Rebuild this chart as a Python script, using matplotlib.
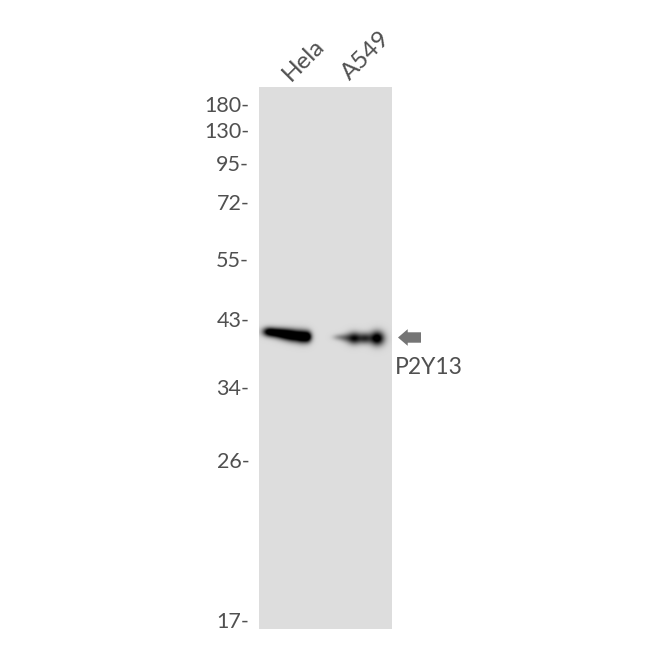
import numpy as np
import matplotlib
matplotlib.use("Agg")
import matplotlib.pyplot as plt

markers = ["180", "130", "95", "72", "55", "43", "34", "26", "17"]
marker_rows = [104, 130, 163, 202, 259, 319, 387, 460, 620]
lanes = ["Hela", "A549"]
target = "P2Y13"

# band blobs: x px, y px, sigma x, sigma y, darkness
hela_band = [(268, 331.5, 4.5, 3.2, .75), (276, 332.5, 5.5, 3.4, .85), (285, 334, 5.5, 3.8, .9),
             (294, 335.5, 5.5, 4.2, .95), (303, 336.5, 4.5, 4.4, .95), (308, 336.5, 2.8, 3.8, .6)]
a549_band = [(338, 337, 4, 2.2, .22), (345, 337.5, 4, 2.8, .3), (354, 338, 5, 4.2, .8),
             (365, 338, 4.5, 3.8, .6), (377, 338, 5, 5.0, 1.0)]
background = 0.865

W, H = 650, 650
L, R, T, B = 259, 392, 87, 629
xs, ys = np.meshgrid(np.arange(L, R, .5), np.arange(T, B, .5))
ink = np.zeros_like(xs)
for x0, y0, sx, sy, d in hela_band + a549_band:
    ink += d * np.exp(-((xs - x0) ** 2 / (2 * sx ** 2) + (ys - y0) ** 2 / (2 * sy ** 2)))
gel = background * (1 - np.clip(ink * 1.15, 0, 1))

plt.rcParams["font.family"] = ["Lato", "DejaVu Sans"]
TXT = "#505050"
fig = plt.figure(figsize=(6.5, 6.5), dpi=100, facecolor="white")
ax = fig.add_axes([L / W, 1 - B / H, (R - L) / W, (B - T) / H])
ax.imshow(gel, cmap="gray", vmin=0, vmax=1, extent=[L, R, B, T], aspect="auto", interpolation="bilinear")
for s in ax.spines.values():
    s.set_visible(False)
ax.set_xticks([])
ax.set_yticks(marker_rows)
ax.set_yticklabels([m + "-" for m in markers], fontsize=15.5, color=TXT)
ax.tick_params(axis="y", length=0, pad=7)

over = fig.add_axes([0, 0, 1, 1], facecolor="none")
over.set_xlim(0, W); over.set_ylim(H, 0); over.axis("off")
for name, x, y in zip(lanes, [304, 366], [60, 56]):
    over.text(x, y, name, rotation=45, ha="center", va="center", rotation_mode="anchor",
              fontsize=17.5, color=TXT)
over.annotate("", xy=(398, 337.5), xytext=(421, 337.5),
              arrowprops=dict(arrowstyle="simple,head_length=0.7,head_width=1.2,tail_width=0.75",
                              color="#757575", lw=0, shrinkA=0, shrinkB=0))
over.text(395, 367, target, ha="left", va="center", fontsize=16.5, color=TXT)
fig.savefig("out.png", dpi=100)
